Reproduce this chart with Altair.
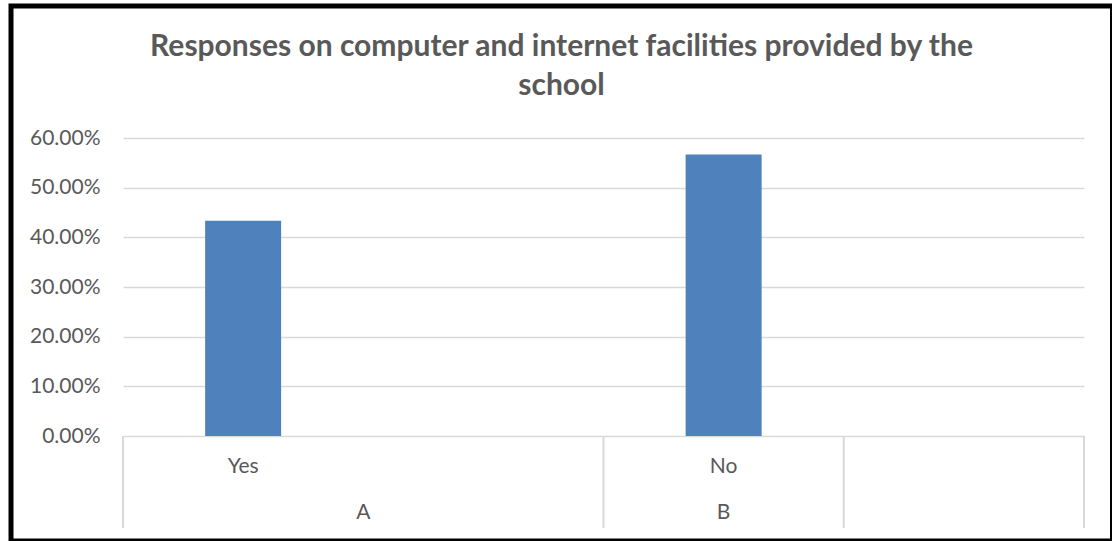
import altair as alt
import pandas as pd

# ---- data ----
slot_labels = ["Yes", "", "No", ""]          # first-level category labels
slot_values = [0.4333, None, 0.5667, None]    # response shares
group_labels = ["A", "B", ""]                 # second-level category labels
group_starts = [0, 2, 3]                      # slot index where each group starts
group_ends = [2, 3, 4]                        # slot index where each group ends
y_ticks = [0.0, 0.1, 0.2, 0.3, 0.4, 0.5, 0.6]
title_lines = ["Responses on computer and internet facilities provided by the", "school"]

W, H = 961, 298
FONT = "Lato"
GREY_TXT = "#595959"
GRID = "#d9d9d9"

slots = pd.DataFrame({
    "label": slot_labels,
    "value": slot_values,
    "center": [i + 0.5 for i in range(len(slot_labels))],
})
bars_df = slots.dropna(subset=["value"])
groups = pd.DataFrame({
    "label": group_labels,
    "center": [(s + e) / 2 for s, e in zip(group_starts, group_ends)],
})
bounds = pd.DataFrame({"b": sorted(set(group_starts) | set(group_ends))})

xscale = alt.Scale(domain=[0, len(slot_labels)], nice=False, zero=False, padding=0)
yscale = alt.Scale(domain=[0, 0.6], nice=False)

bars = alt.Chart(bars_df).mark_bar(size=76, color="#4f81bd").encode(
    x=alt.X("center:Q", scale=xscale, axis=None),
    y=alt.Y("value:Q", scale=yscale,
            axis=alt.Axis(values=y_ticks, format=".2%", title=None, domain=False,
                          ticks=False, labelFont=FONT, labelFontSize=21,
                          labelColor=GREY_TXT, labelPadding=23,
                          gridColor=GRID, gridWidth=1.5)),
)

slot_text = alt.Chart(slots).mark_text(font=FONT, fontSize=21, color=GREY_TXT,
                                       baseline="middle").encode(
    x=alt.X("center:Q", scale=xscale),
    y=alt.value(H + 31),
    text="label:N",
)

group_text = alt.Chart(groups).mark_text(font=FONT, fontSize=21, color=GREY_TXT,
                                         baseline="middle").encode(
    x=alt.X("center:Q", scale=xscale),
    y=alt.value(H + 77),
    text="label:N",
)

dividers = alt.Chart(bounds).mark_rule(color=GRID, strokeWidth=2).encode(
    x=alt.X("b:Q", scale=xscale),
    y=alt.value(H),
    y2=alt.value(H + 92),
)

title = alt.Chart(pd.DataFrame({"t": [0]})).mark_text(
    font=FONT, fontSize=30, fontWeight="bold", color=GREY_TXT,
    align="center", baseline="alphabetic", lineHeight=39,
).encode(
    x=alt.value(561.5 - 123),
    y=alt.value(56 - 138),
    text=alt.value(title_lines),
)

frame = alt.Chart(pd.DataFrame({"t": [0]})).mark_rect(
    filled=False, stroke="black", strokeWidth=5,
).encode(
    x=alt.value(11 - 123), x2=alt.value(1112.5 - 123),
    y=alt.value(6 - 138), y2=alt.value(541 - 138),
)

chart = alt.layer(bars, dividers, slot_text, group_text, title, frame).properties(
    width=W, height=H,
    autosize=alt.AutoSizeParams(type="none"),
    padding={"left": 123, "top": 138, "right": 28, "bottom": 105},
    background="white",
).configure_view(stroke=None)

chart.save("out.html", embed_options={"renderer": "svg", "actions": False})
